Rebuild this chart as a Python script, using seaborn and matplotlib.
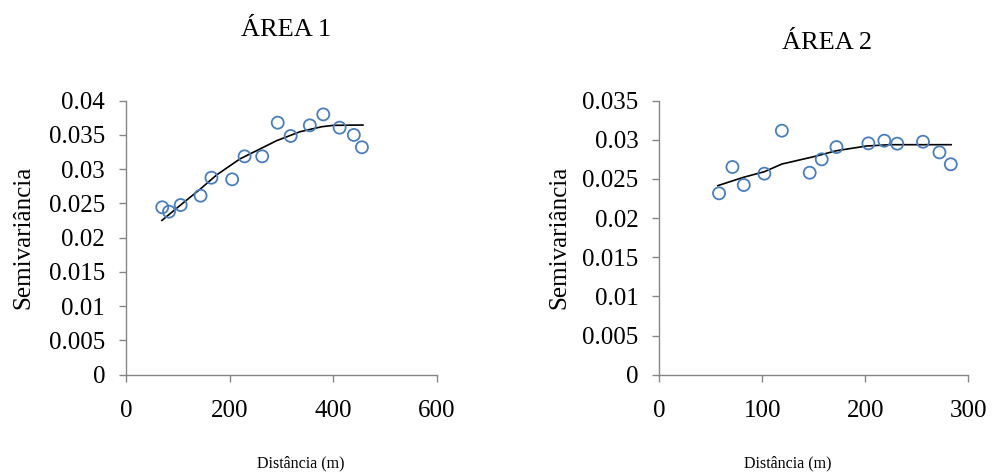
import matplotlib
matplotlib.use("Agg")
import matplotlib.pyplot as plt
import seaborn as sns
import pandas as pd

# ÁREA 1 data
a1_dist = [70, 83, 105.6, 144, 165, 205, 229, 263, 293, 318, 355, 381, 412.5, 440, 455.6]
a1_semi = [0.02444, 0.0238, 0.02477, 0.02613, 0.02876, 0.02852, 0.03188, 0.03188,
           0.03679, 0.03485, 0.0364, 0.0380, 0.03606, 0.0350, 0.0332]
a1_model_dist = [69, 110.7, 143, 175, 220, 258.7, 290.7, 336, 378, 400, 458]
a1_model_semi = [0.0225, 0.0251, 0.02707, 0.02916, 0.0315, 0.03295, 0.03416, 0.03547,
                 0.0362, 0.0364, 0.03645]

# ÁREA 2 data
a2_dist = [58, 71, 82, 102, 119, 146, 157.7, 172, 203, 218.5, 231, 256, 272, 283]
a2_semi = [0.02317, 0.02653, 0.02423, 0.02568, 0.03117, 0.0258, 0.02751, 0.02908,
           0.02955, 0.02989, 0.02951, 0.02976, 0.0284, 0.02688]
a2_model_dist = [56.6, 81.6, 102, 119, 150, 172, 201, 224, 283.5]
a2_model_semi = [0.02414, 0.02521, 0.02593, 0.02691, 0.02785, 0.02861, 0.02921,
                 0.02938, 0.02938]

titles = ["ÁREA 1", "ÁREA 2"]
ylabel = "Semivariância"
xlabel = "Distância (m)"

sns.set_theme(style="white")
plt.rcParams['font.family'] = ['Liberation Serif', 'DejaVu Serif']
plt.rcParams['text.color'] = 'black'
plt.rcParams['axes.labelcolor'] = 'black'

W, H = 994, 472
fig = plt.figure(figsize=(W / 100, H / 100), dpi=100)

gray = "#868686"
blue = "#4a7ebb"

def px_axes(x0, x1, y0, y1):
    return fig.add_axes([x0 / W, 1 - y1 / H, (x1 - x0) / W, (y1 - y0) / H])

ax1 = px_axes(126, 436.7, 100.7, 374.7)
ax2 = px_axes(659.3, 968.3, 100.7, 374.7)

configs = [
    (ax1, a1_dist, a1_semi, a1_model_dist, a1_model_semi, (0, 600), [0, 200, 400, 600],
     (0, 0.04), [0, 0.005, 0.01, 0.015, 0.02, 0.025, 0.03, 0.035, 0.04],
     ["0", "0.005", "0.01", "0.015", "0.02", "0.025", "0.03", "0.035", "0.04"]),
    (ax2, a2_dist, a2_semi, a2_model_dist, a2_model_semi, (0, 300), [0, 100, 200, 300],
     (0, 0.035), [0, 0.005, 0.01, 0.015, 0.02, 0.025, 0.03, 0.035],
     ["0", "0.005", "0.01", "0.015", "0.02", "0.025", "0.03", "0.035"]),
]

for ax, d, s, md, ms, xl, xt, yl, yt, ytl in configs:
    sns.lineplot(x=md, y=ms, ax=ax, color="black", linewidth=1.2, sort=False, zorder=2)
    sns.scatterplot(x=d, y=s, ax=ax, marker="o", s=75, facecolor="none",
                    edgecolor=blue, linewidth=1.3, zorder=3)
    ax.set_xlim(*xl)
    ax.set_ylim(*yl)
    ax.set_xticks(xt)
    ax.set_xticklabels([str(v) for v in xt])
    ax.set_yticks(yt)
    ax.set_yticklabels(ytl)
    for side in ["top", "right"]:
        ax.spines[side].set_visible(False)
    for side in ["left", "bottom"]:
        ax.spines[side].set_color(gray)
        ax.spines[side].set_linewidth(1.0)
    ax.tick_params(axis="both", which="major", direction="out", length=5, width=1.0,
                   color=gray, labelsize=18, labelcolor="black")
    ax.tick_params(axis="x", pad=13, bottom=True)
    ax.tick_params(axis="y", pad=10, left=True)
    ax.set_xlabel("")
    ax.set_ylabel("")
    ax.grid(False)

cy = 1 - (100.7 + 374.7) / 2 / H
fig.text(286 / W, 1 - 30 / H, titles[0], ha="center", va="center", fontsize=19, color="black")
fig.text(827 / W, 1 - 43 / H, titles[1], ha="center", va="center", fontsize=19, color="black")
fig.text(23 / W, cy, ylabel, ha="center", va="center", rotation=90, fontsize=18, color="black")
fig.text(559 / W, cy, ylabel, ha="center", va="center", rotation=90, fontsize=18, color="black")
fig.text(301 / W, 1 - 463 / H, xlabel, ha="center", va="center", fontsize=11.5, color="black")
fig.text(788 / W, 1 - 463 / H, xlabel, ha="center", va="center", fontsize=11.5, color="black")

fig.savefig("out.png", dpi=100)
